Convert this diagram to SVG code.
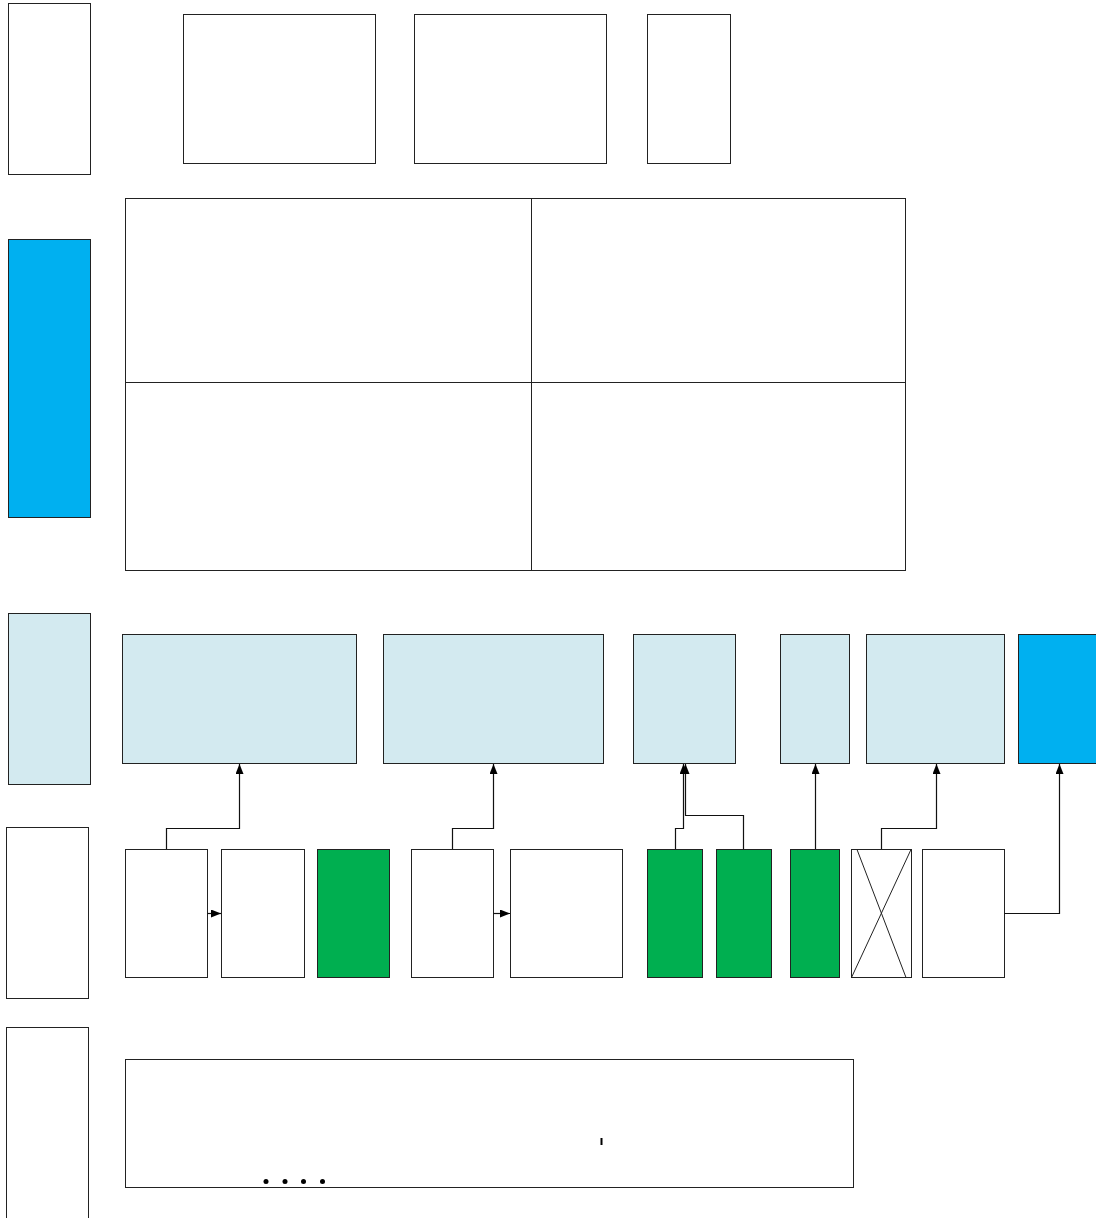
<svg xmlns="http://www.w3.org/2000/svg" width="1096" height="1218" viewBox="0 0 1096 1218">
<style>
.b{fill:#fff;stroke:#222;stroke-width:1}
.sky{fill:#00B0F0;stroke:#222;stroke-width:1}
.pale{fill:#D3EAF0;stroke:#222;stroke-width:1}
.grn{fill:#00AF50;stroke:#222;stroke-width:1}
.c{fill:none;stroke:#111;stroke-width:1.2}
</style>
<defs>
<marker id="ah" markerWidth="10" markerHeight="8" refX="10" refY="4" orient="auto" markerUnits="userSpaceOnUse">
<path d="M0,0 L10,4 L0,8 Z" fill="#000"/>
</marker>
</defs>
<rect width="1096" height="1218" fill="#fff"/>
<g id="left-col">
<rect id="L1" class="b" x="8.5" y="3.5" width="82" height="171"/>
<rect id="L2" class="sky" x="8.5" y="239.5" width="82" height="278"/>
<rect id="L3" class="pale" x="8.5" y="613.5" width="82" height="171"/>
<rect id="L4" class="b" x="6.5" y="827.5" width="82" height="171"/>
<rect id="L5" class="b" x="6.5" y="1027.5" width="82" height="200"/>
</g>
<g id="row1">
<rect id="r1a" class="b" x="183.5" y="14.5" width="192" height="149"/>
<rect id="r1b" class="b" x="414.5" y="14.5" width="192" height="149"/>
<rect id="r1c" class="b" x="647.5" y="14.5" width="83" height="149"/>
</g>
<g id="grid">
<rect id="g11" class="b" x="125.5" y="198.5" width="406" height="184"/>
<rect id="g12" class="b" x="531.5" y="198.5" width="374" height="184"/>
<rect id="g21" class="b" x="125.5" y="382.5" width="406" height="188"/>
<rect id="g22" class="b" x="531.5" y="382.5" width="374" height="188"/>
</g>
<g id="row3">
<rect id="r3a" class="pale" x="122.5" y="634.5" width="234" height="129"/>
<rect id="r3b" class="pale" x="383.5" y="634.5" width="220" height="129"/>
<rect id="r3c" class="pale" x="633.5" y="634.5" width="102" height="129"/>
<rect id="r3d" class="pale" x="780.5" y="634.5" width="69" height="129"/>
<rect id="r3e" class="pale" x="866.5" y="634.5" width="138" height="129"/>
<rect id="r3f" class="sky" x="1018.5" y="634.5" width="90" height="129"/>
</g>
<g id="row4">
<rect id="r4a" class="b" x="125.5" y="849.5" width="82" height="128"/>
<rect id="r4b" class="b" x="221.5" y="849.5" width="83" height="128"/>
<rect id="r4c" class="grn" x="317.5" y="849.5" width="72" height="128"/>
<rect id="r4d" class="b" x="411.5" y="849.5" width="82" height="128"/>
<rect id="r4e" class="b" x="510.5" y="849.5" width="112" height="128"/>
<rect id="r4f" class="grn" x="647.5" y="849.5" width="55" height="128"/>
<rect id="r4g" class="grn" x="716.5" y="849.5" width="55" height="128"/>
<rect id="r4h" class="grn" x="790.5" y="849.5" width="49" height="128"/>
<g id="r4i">
<rect class="b" x="851.5" y="849.5" width="60" height="128"/>
<path d="M857,849.5 L906,977.5 M911,849.5 L851.5,977.5" stroke="#222" stroke-width="1" fill="none"/>
</g>
<rect id="r4j" class="b" x="922.5" y="849.5" width="82" height="128"/>
</g>
<g id="bottom">
<rect id="bot" class="b" x="125.5" y="1059.5" width="728" height="128"/>
<rect x="600.5" y="1138" width="2" height="7" fill="#000"/>
<circle cx="266" cy="1181.5" r="2.5" fill="#000"/>
<circle cx="285" cy="1181.5" r="2.5" fill="#000"/>
<circle cx="303.5" cy="1181.5" r="2.5" fill="#000"/>
<circle cx="322.5" cy="1181.5" r="2.5" fill="#000"/>
</g>
<g id="connectors">
<path class="c" d="M166.5,849 V828.5 H239.5 V764" marker-end="url(#ah)"/>
<path class="c" d="M207.5,913.5 H221" marker-end="url(#ah)"/>
<path class="c" d="M452.5,849 V828.5 H493.5 V764" marker-end="url(#ah)"/>
<path class="c" d="M493.5,913.5 H510" marker-end="url(#ah)"/>
<path class="c" d="M675.5,849 V828.5 H683.5 V764" marker-end="url(#ah)"/>
<path class="c" d="M743.5,849 V815.5 H685.5 V764" marker-end="url(#ah)"/>
<path class="c" d="M815.5,849 V764" marker-end="url(#ah)"/>
<path class="c" d="M881.5,849 V828.5 H936.5 V764" marker-end="url(#ah)"/>
<path class="c" d="M1004.5,913.5 H1059.5 V764" marker-end="url(#ah)"/>
</g>
</svg>
